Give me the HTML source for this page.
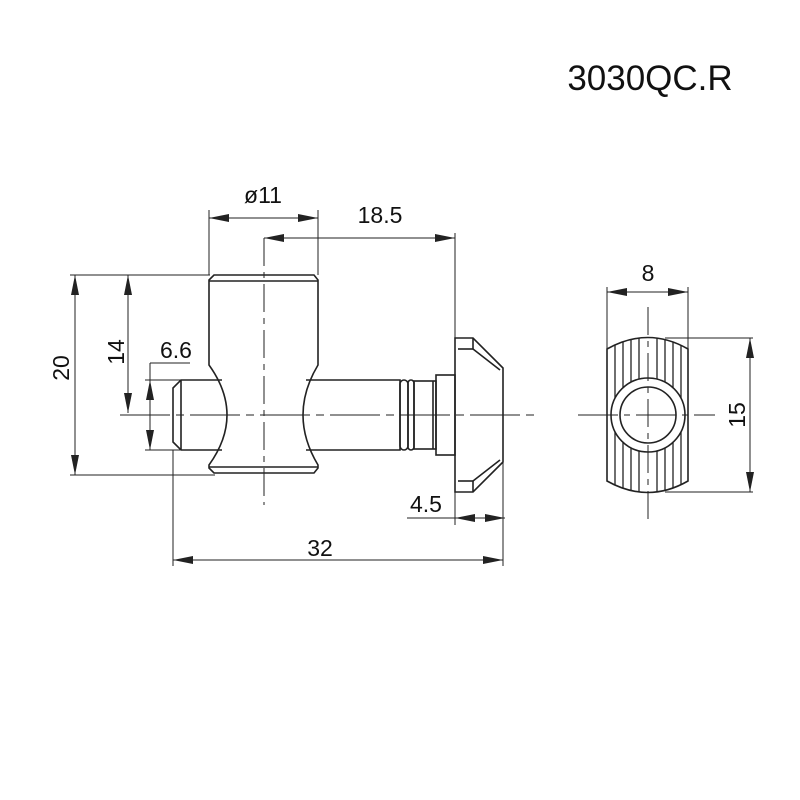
<!DOCTYPE html>
<html><head><style>body{margin:0;background:#fff}svg{display:block}</style></head><body>
<svg width="800" height="800" viewBox="0 0 800 800" xmlns="http://www.w3.org/2000/svg" font-family="Liberation Sans, sans-serif">
<defs>
<marker id="a" viewBox="0 0 20 8" refX="20" refY="4" markerWidth="20" markerHeight="8" markerUnits="userSpaceOnUse" orient="auto-start-reverse"><path d="M0,0 L20,4 L0,8 Z" fill="#222"/></marker>
<clipPath id="nut"><path d="M607,349 Q648,326 688,349 L688,481 Q648,504 607,481 Z"/></clipPath>
</defs>
<rect width="800" height="800" fill="#fff"/>
<text x="650" y="90" font-size="35" text-anchor="middle" fill="#111">3030QC.R</text>
<g stroke="#222" stroke-width="1" fill="none">
<line x1="209" y1="210" x2="209" y2="275"/><line x1="318" y1="210" x2="318" y2="275"/>
<line x1="455" y1="233" x2="455" y2="525"/>
<line x1="70" y1="275" x2="210" y2="275"/><line x1="70" y1="475" x2="215" y2="475"/>
<line x1="145" y1="380" x2="185" y2="380"/><line x1="145" y1="450" x2="180" y2="450"/>
<line x1="150" y1="363" x2="190" y2="363"/><line x1="150" y1="363" x2="150" y2="380"/>
<line x1="173" y1="450" x2="173" y2="566"/><line x1="503" y1="460" x2="503" y2="566"/>
<line x1="407" y1="518" x2="455" y2="518"/>
<line x1="209" y1="218" x2="318" y2="218" marker-start="url(#a)" marker-end="url(#a)"/>
<line x1="264" y1="238" x2="455" y2="238" marker-start="url(#a)" marker-end="url(#a)"/>
<line x1="75" y1="275" x2="75" y2="475" marker-start="url(#a)" marker-end="url(#a)"/>
<line x1="128" y1="275" x2="128" y2="413" marker-start="url(#a)" marker-end="url(#a)"/>
<line x1="150" y1="380" x2="150" y2="450" marker-start="url(#a)" marker-end="url(#a)"/>
<line x1="455" y1="518" x2="505" y2="518" marker-start="url(#a)" marker-end="url(#a)"/>
<line x1="173" y1="560" x2="503" y2="560" marker-start="url(#a)" marker-end="url(#a)"/>
<line x1="264" y1="238" x2="264" y2="505" stroke-dasharray="28,6,6,6"/>
<line x1="120" y1="415" x2="535" y2="415" stroke-dasharray="50,6,8,6"/>
</g>
<g stroke="#222" stroke-width="1.6" fill="none">
<path d="M214,275 L314,275 L318,280 L318,365 Q288,415 318,465 L318,468 L314,473 L214,473 L209,468 L209,465 Q245,415 209,365 L209,280 Z"/>
<line x1="209" y1="281" x2="318" y2="281"/><line x1="209" y1="467" x2="318" y2="467"/>
<path d="M222,380 L181,380 L173,388 L173,442 L181,450 L222,450"/>
<line x1="181" y1="380" x2="181" y2="450"/>
<path d="M306,380 L400,380 L400,450 L306,450"/>
<rect x="400" y="380" width="8" height="70" rx="4"/>
<rect x="408" y="380" width="6" height="70" rx="3"/>
<rect x="414" y="381" width="22" height="68"/>
<line x1="433" y1="381" x2="433" y2="449"/>
<rect x="436" y="375" width="19" height="80"/>
<path d="M455,338 L473,338 L503,368 L503,462 L473,492 L455,492 Z"/>
<line x1="473" y1="338" x2="473" y2="349"/><line x1="458" y1="349" x2="473" y2="349"/>
<line x1="473" y1="349" x2="500" y2="370"/>
<line x1="473" y1="481" x2="473" y2="492"/><line x1="458" y1="481" x2="473" y2="481"/>
<line x1="473" y1="481" x2="500" y2="460"/>
<path d="M607,349 Q648,326 688,349 L688,481 Q648,504 607,481 Z"/>
</g>
<g stroke="#222" stroke-width="1.3" clip-path="url(#nut)">
<line x1="615" y1="320" x2="615" y2="510"/><line x1="623" y1="320" x2="623" y2="510"/>
<line x1="631" y1="320" x2="631" y2="510"/><line x1="639" y1="320" x2="639" y2="510"/>
<line x1="657" y1="320" x2="657" y2="510"/><line x1="665" y1="320" x2="665" y2="510"/>
<line x1="673" y1="320" x2="673" y2="510"/><line x1="681" y1="320" x2="681" y2="510"/>
</g>
<circle cx="648" cy="415" r="37" fill="#fff" stroke="#222" stroke-width="1.6"/>
<circle cx="648" cy="415" r="28" fill="#fff" stroke="#222" stroke-width="1.6"/>
<g stroke="#222" stroke-width="1" fill="none">
<line x1="648" y1="307" x2="648" y2="522" stroke-dasharray="28,6,6,6"/>
<line x1="578" y1="415" x2="715" y2="415" stroke-dasharray="40,6,6,6"/>
<line x1="607" y1="287" x2="607" y2="349"/><line x1="688" y1="287" x2="688" y2="349"/>
<line x1="607" y1="292" x2="688" y2="292" marker-start="url(#a)" marker-end="url(#a)"/>
<line x1="665" y1="338" x2="753" y2="338"/><line x1="665" y1="492" x2="753" y2="492"/>
<line x1="750" y1="338" x2="750" y2="492" marker-start="url(#a)" marker-end="url(#a)"/>
</g>
<g font-size="23" fill="#111" text-anchor="middle">
<text x="263" y="203">ø11</text>
<text x="380" y="223">18.5</text>
<text x="176" y="358">6.6</text>
<text x="426" y="512">4.5</text>
<text x="320" y="556">32</text>
<text x="648" y="281">8</text>
<text transform="translate(69,368) rotate(-90)">20</text>
<text transform="translate(124,352) rotate(-90)">14</text>
<text transform="translate(745,415) rotate(-90)">15</text>
</g>
</svg>
</body></html>
